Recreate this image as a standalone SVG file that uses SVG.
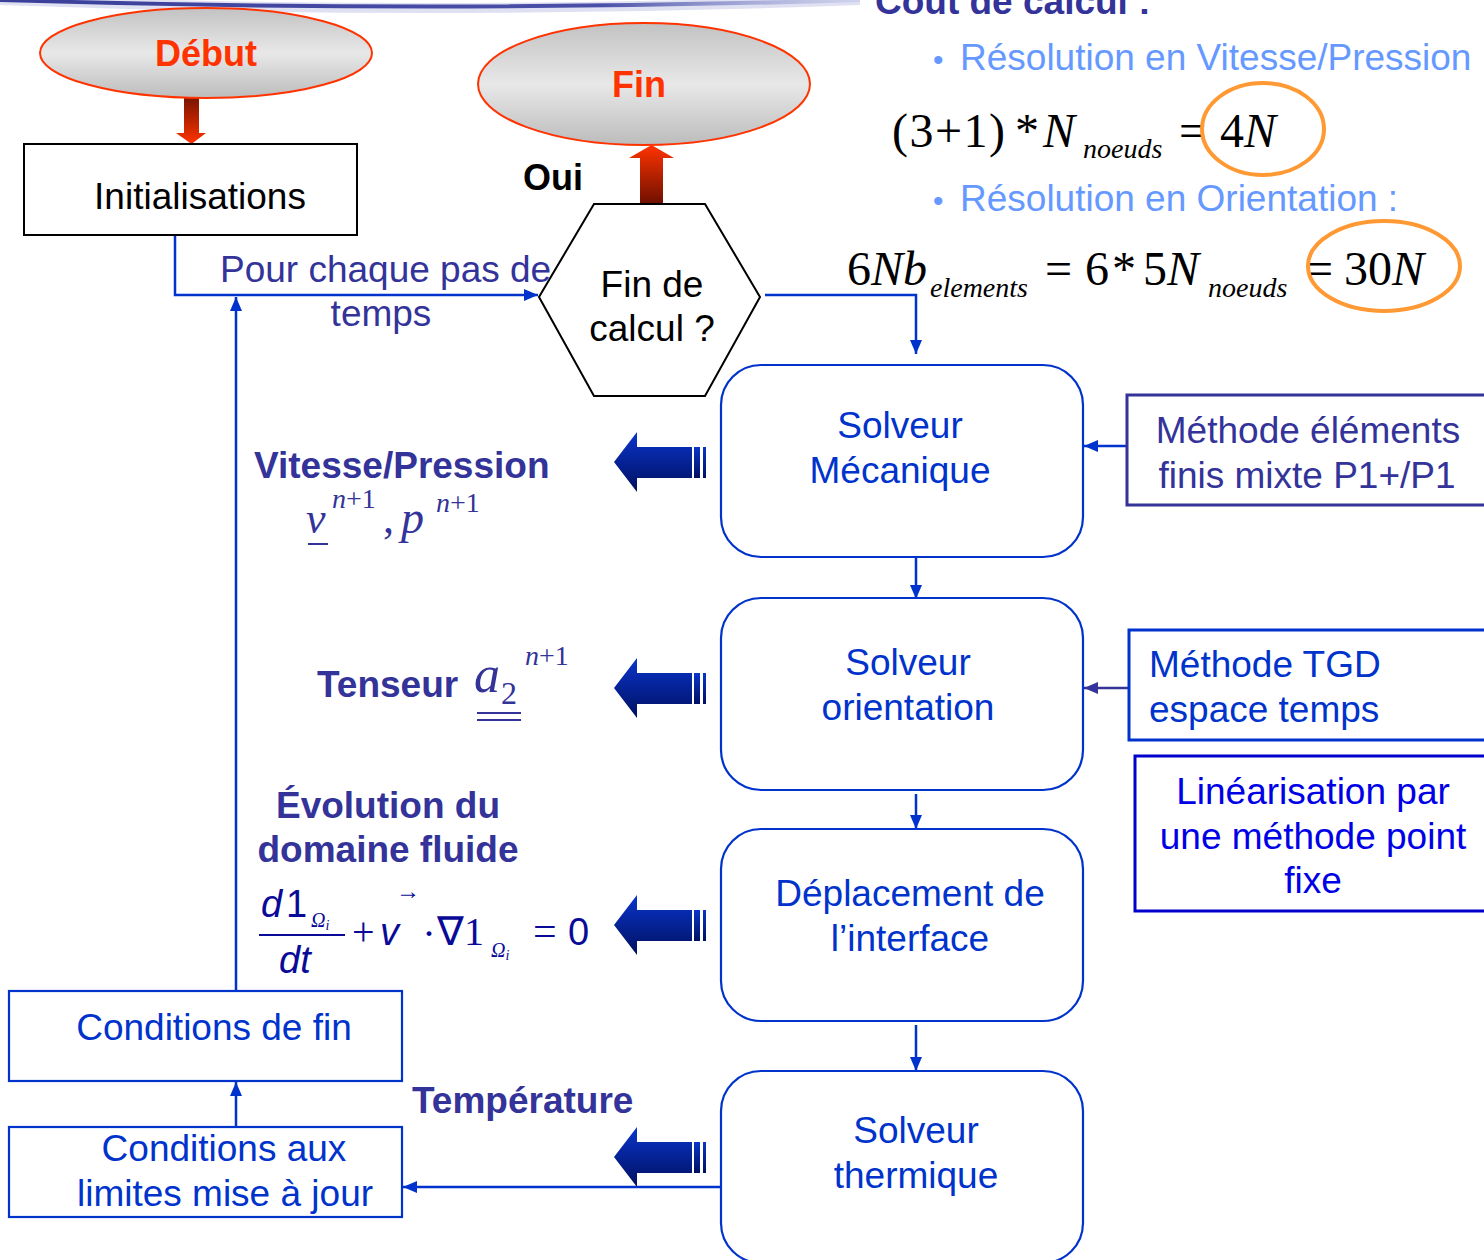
<svg xmlns="http://www.w3.org/2000/svg" width="1484" height="1260" viewBox="0 0 1484 1260">
<defs>
<linearGradient id="gray" x1="0" y1="0" x2="0" y2="1">
<stop offset="0" stop-color="#c2c2c2"/><stop offset="0.5" stop-color="#e8e8e8"/><stop offset="1" stop-color="#bcbcbc"/>
</linearGradient>
<linearGradient id="redDown" x1="0" y1="0" x2="0" y2="1">
<stop offset="0" stop-color="#7a1500"/><stop offset="1" stop-color="#ff3300"/>
</linearGradient>
<linearGradient id="redUp" x1="0" y1="1" x2="0" y2="0">
<stop offset="0" stop-color="#6e1000"/><stop offset="1" stop-color="#ff3300"/>
</linearGradient>
<linearGradient id="blueArr" x1="0" y1="0" x2="0" y2="1">
<stop offset="0" stop-color="#0a35cc"/><stop offset="1" stop-color="#001060"/>
</linearGradient>
<linearGradient id="banner" x1="0" y1="0" x2="1" y2="0">
<stop offset="0" stop-color="#3a3f9a"/><stop offset="0.7" stop-color="#4a50a8"/><stop offset="1" stop-color="#aab0dd" stop-opacity="0.3"/>
</linearGradient>
<marker id="ah" viewBox="0 0 14 12" refX="14" refY="6" markerWidth="14" markerHeight="12" markerUnits="userSpaceOnUse" orient="auto">
<path d="M0,0 L14,6 L0,12 Z" fill="#0033cc"/>
</marker>
<marker id="ahp" viewBox="0 0 14 12" refX="14" refY="6" markerWidth="14" markerHeight="12" markerUnits="userSpaceOnUse" orient="auto">
<path d="M0,0 L14,6 L0,12 Z" fill="#333399"/>
</marker>
<g id="bigArrow">
<path d="M0,0 L23,-30 L23,-15 L78,-15 L78,16 L23,16 L23,30 Z" fill="url(#blueArr)"/>
<rect x="80" y="-15" width="6" height="31" fill="url(#blueArr)"/>
<rect x="89" y="-15" width="3" height="31" fill="url(#blueArr)"/>
</g>
</defs>
<style>
.sans{font-family:"Liberation Sans",Arial,sans-serif;}
.serif{font-family:"Liberation Serif","Times New Roman",serif;}
.t37{font-size:37px;}
.b{font-weight:bold;}
.blue{fill:#0033cc;}
.navy{fill:#333399;}
.solv{fill:#fff;stroke:#0033cc;stroke-width:2.2;}
.conn{fill:none;stroke:#0033cc;stroke-width:2.5;}
.mid{text-anchor:middle;}
.m44{font-size:48px;}
.s28{font-size:28px;}
.it{font-style:italic;}
.ring{fill:none;stroke:#ff9933;stroke-width:4;}
</style>
<rect width="1484" height="1260" fill="#ffffff"/>

<!-- top banner -->
<path d="M0,0 Q430,16 860,0" fill="none" stroke="#c9cdea" stroke-width="10" opacity="0.6"/>
<path d="M0,0 Q430,13 860,0" fill="none" stroke="url(#banner)" stroke-width="4"/>

<!-- cost text -->
<g id="cost">
<text x="875" y="14" class="sans b navy t37">Coût de calcul :</text>
<text x="933" y="70" class="sans t37" fill="#6699ff"><tspan font-size="30">•</tspan><tspan x="960">Résolution en Vitesse/Pression</tspan></text>
<text x="933" y="211" class="sans t37" fill="#6699ff"><tspan font-size="30">•</tspan><tspan x="960">Résolution en Orientation :</tspan></text>
<g class="serif" fill="#000">
<text x="892" y="147" class="m44" textLength="113" lengthAdjust="spacing">(3+1)</text>
<text x="1015" y="147" class="m44">*</text>
<text x="1043" y="147" class="m44 it">N</text>
<text x="1083" y="158" class="s28 it">noeuds</text>
<text x="1179" y="147" class="m44">=</text>
<text x="1220" y="147" class="m44">4<tspan class="it">N</tspan></text>
<text x="847" y="285" class="m44">6<tspan class="it">Nb</tspan></text>
<text x="930" y="297" class="s28 it">elements</text>
<text x="1045" y="285" class="m44">=</text>
<text x="1085" y="285" class="m44">6</text>
<text x="1112" y="285" class="m44">*</text>
<text x="1143" y="285" class="m44">5<tspan class="it">N</tspan></text>
<text x="1208" y="297" class="s28 it">noeuds</text>
<text x="1306" y="285" class="m44">=</text>
<text x="1344" y="285" class="m44">30<tspan class="it">N</tspan></text>
</g>
<ellipse cx="1263" cy="129" rx="61" ry="46" class="ring"/>
<ellipse cx="1384" cy="266" rx="76" ry="45" class="ring"/>
</g>

<!-- connectors -->
<g id="connectors">
<path d="M175,235 L175,295 L538,295" class="conn" marker-end="url(#ah)"/>
<path d="M236,991 L236,297" class="conn" marker-end="url(#ah)"/>
<path d="M765,295 L916,295 L916,354" class="conn" marker-end="url(#ah)"/>
<path d="M916,557 L916,599" class="conn" marker-end="url(#ah)"/>
<path d="M916,794 L916,829" class="conn" marker-end="url(#ah)"/>
<path d="M916,1025 L916,1071" class="conn" marker-end="url(#ah)"/>
<path d="M721,1187 L403,1187" class="conn" marker-end="url(#ah)"/>
<path d="M236,1127 L236,1082" class="conn" marker-end="url(#ah)"/>
<path d="M1127,446 L1084,446" class="conn" marker-end="url(#ah)"/>
<path d="M1129,688 L1084,688" fill="none" stroke="#333399" stroke-width="2.5" marker-end="url(#ahp)"/>
<path d="M184,98 L199,98 L199,133 L206,133 L191.5,144 L176,133 L184,133 Z" fill="url(#redDown)"/>
<path d="M640,204 L663,204 L663,158 L674,158 L651.5,145 L629,158 L640,158 Z" fill="url(#redUp)"/>
<use href="#bigArrow" x="614" y="462"/>
<use href="#bigArrow" x="614" y="688"/>
<use href="#bigArrow" x="614" y="925"/>
<use href="#bigArrow" x="614" y="1157"/>
</g>

<!-- nodes -->
<g id="debut">
<ellipse cx="206" cy="53" rx="166" ry="45" fill="url(#gray)" stroke="#ff3300" stroke-width="2"/>
<text x="206" y="66" class="sans b mid" font-size="36" fill="#ff3300">Début</text>
</g>
<g id="fin">
<ellipse cx="644" cy="84" rx="166" ry="61" fill="url(#gray)" stroke="#ff3300" stroke-width="2"/>
<text x="639" y="97" class="sans b mid" font-size="36" fill="#ff3300">Fin</text>
</g>
<g id="init">
<rect x="24" y="144" width="333" height="91" fill="#fff" stroke="#000" stroke-width="2"/>
<text x="200" y="209" class="sans t37 mid" fill="#000">Initialisations</text>
</g>
<g id="oui"><text x="523" y="190" class="sans b" font-size="36" fill="#000">Oui</text></g>
<g id="pourchaque">
<text x="220" y="282" class="sans t37 navy">Pour chaque pas de</text>
<text x="381" y="326" class="sans t37 navy mid">temps</text>
</g>
<g id="decision">
<polygon points="539,297 594,204 705,204 760,297 705,396 594,396" fill="#fff" stroke="#000" stroke-width="2"/>
<text x="652" y="297" class="sans t37 mid" fill="#000">Fin de</text>
<text x="652" y="341" class="sans t37 mid" fill="#000">calcul ?</text>
</g>
<g id="mecanique">
<rect x="721" y="365" width="362" height="192" rx="40" class="solv"/>
<text x="900" y="438" class="sans t37 mid blue">Solveur</text>
<text x="900" y="483" class="sans t37 mid blue">Mécanique</text>
</g>
<g id="orientation">
<rect x="721" y="598" width="362" height="192" rx="40" class="solv"/>
<text x="908" y="675" class="sans t37 mid blue">Solveur</text>
<text x="908" y="720" class="sans t37 mid blue">orientation</text>
</g>
<g id="deplacement">
<rect x="721" y="829" width="362" height="192" rx="40" class="solv"/>
<text x="910" y="906" class="sans t37 mid blue">Déplacement de</text>
<text x="910" y="951" class="sans t37 mid blue">l’interface</text>
</g>
<g id="thermique">
<rect x="721" y="1071" width="362" height="192" rx="40" class="solv"/>
<text x="916" y="1143" class="sans t37 mid blue">Solveur</text>
<text x="916" y="1188" class="sans t37 mid blue">thermique</text>
</g>
<g id="condfin">
<rect x="9" y="991" width="393" height="90" fill="#fff" stroke="#0033cc" stroke-width="2.2"/>
<text x="214" y="1040" class="sans t37 mid blue">Conditions de fin</text>
</g>
<g id="condlim">
<rect x="9" y="1127" width="393" height="90" fill="#fff" stroke="#0033cc" stroke-width="2.2"/>
<text x="224" y="1161" class="sans t37 mid blue">Conditions aux</text>
<text x="225" y="1206" class="sans t37 mid blue">limites mise à jour</text>
</g>
<g id="methodeEF">
<rect x="1127" y="395" width="370" height="110" fill="#fff" stroke="#333399" stroke-width="3"/>
<text x="1308" y="443" class="sans t37 mid navy">Méthode éléments</text>
<text x="1307" y="488" class="sans t37 mid navy">finis mixte P1+/P1</text>
</g>
<g id="methodeTGD">
<rect x="1129" y="630" width="370" height="110" fill="#fff" stroke="#0033cc" stroke-width="3"/>
<text x="1149" y="677" class="sans t37 blue">Méthode TGD</text>
<text x="1149" y="722" class="sans t37 blue">espace temps</text>
</g>
<g id="linearisation">
<rect x="1135" y="756" width="370" height="155" fill="#fff" stroke="#0000cc" stroke-width="3"/>
<text x="1313" y="804" class="sans t37 mid" fill="#0000e6">Linéarisation par</text>
<text x="1313" y="849" class="sans t37 mid" fill="#0000e6">une méthode point</text>
<text x="1313" y="893" class="sans t37 mid" fill="#0000e6">fixe</text>
</g>

<!-- left labels -->
<g id="vitesse">
<text x="254" y="478" class="sans b t37 navy">Vitesse/Pression</text>
<text x="306" y="533" class="serif it navy" font-size="44">v</text>
<line x1="308" y1="544" x2="328" y2="544" stroke="#333399" stroke-width="2"/>
<text x="332" y="508" class="serif it navy" font-size="28">n<tspan font-style="normal">+1</tspan></text>
<text x="383" y="533" class="serif navy" font-size="44">,</text>
<text x="401" y="533" class="serif it navy" font-size="46">p</text>
<text x="436" y="512" class="serif it navy" font-size="28">n<tspan font-style="normal">+1</tspan></text>
</g>
<g id="tenseur">
<text x="317" y="697" class="sans b t37 navy">Tenseur</text>
<text x="474" y="692" class="serif it navy" font-size="52">a</text>
<text x="501" y="704" class="serif navy" font-size="32">2</text>
<line x1="477" y1="713" x2="521" y2="713" stroke="#333399" stroke-width="2"/>
<line x1="477" y1="720" x2="521" y2="720" stroke="#333399" stroke-width="2"/>
<text x="525" y="665" class="serif it navy" font-size="28">n<tspan font-style="normal">+1</tspan></text>
</g>
<g id="evolution">
<text x="388" y="818" class="sans b t37 navy mid">Évolution du</text>
<text x="388" y="862" class="sans b t37 navy mid">domaine fluide</text>
<g fill="#0a0a99">
<text x="261" y="917" class="sans it" font-size="38">d</text>
<text x="286" y="917" class="sans" font-size="38">1</text>
<text x="311" y="927" class="serif it" font-size="20">Ω<tspan font-size="14" dy="3">i</tspan></text>
<line x1="259" y1="935" x2="345" y2="935" stroke="#0a0a99" stroke-width="2"/>
<text x="279" y="973" class="sans it" font-size="38">dt</text>
<text x="352" y="945" class="serif" font-size="40">+</text>
<text x="380" y="945" class="sans it" font-size="38">v</text>
<text x="396" y="899" class="serif" font-size="24">→</text>
<text x="424" y="943" class="serif b" font-size="30">·</text>
<text x="437" y="945" class="serif" font-size="40">∇1</text>
<text x="491" y="957" class="serif it" font-size="20">Ω<tspan font-size="14" dy="3">i</tspan></text>
<text x="533" y="945" class="serif" font-size="42">=</text>
<text x="568" y="945" class="sans" font-size="38">0</text>
</g>
</g>
<g id="temperature">
<text x="412" y="1113" class="sans b t37 navy">Température</text>
</g>
</svg>
